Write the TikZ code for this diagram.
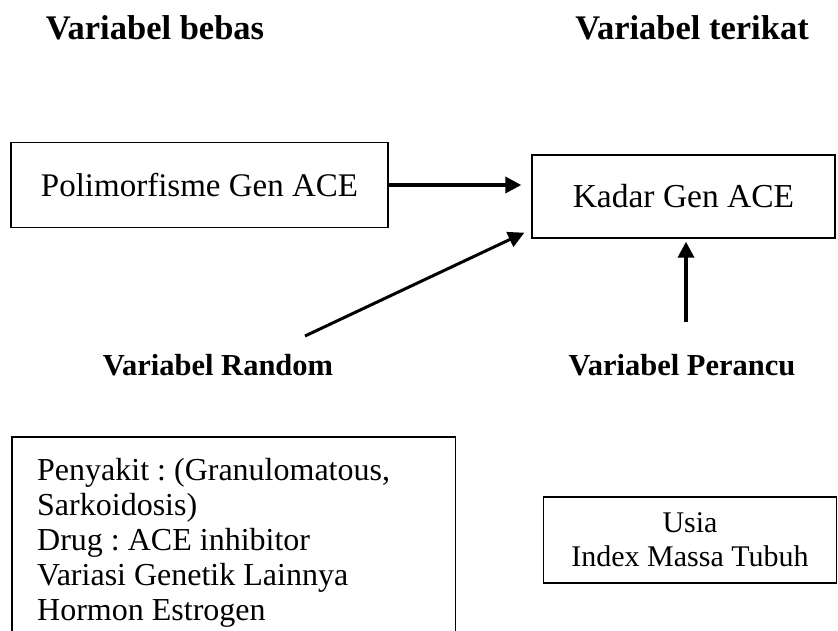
\documentclass[tikz,border=0pt]{standalone}
\usepackage{fontspec}
\setmainfont{Liberation Serif}
\usetikzlibrary{arrows.meta,positioning}
\frenchspacing
\tikzset{
    judul/.style={font=\fontsize{34.5}{38}\selectfont\bfseries},
    kotak/.style={draw, line width=1.4pt},
    panah/.style={line width=3.6pt, -{Triangle[length=16pt,width=16pt]}}
}
\begin{document}
\begin{tikzpicture}[x=1pt, y=-1pt]
    \clip (0,0) rectangle (838,630);
    \useasboundingbox (0,0) rectangle (838,630);
    % judul variabel
    \node[judul] (bebas)   at (155,28)  {Variabel bebas};
    \node[judul] (terikat) at (692,28)  {Variabel terikat};
    \node[judul, font=\fontsize{30.5}{36}\selectfont\bfseries] (random)  at (218,365) {Variabel Random};
    \node[judul, font=\fontsize{30.5}{36}\selectfont\bfseries] (perancu) at (682,365) {Variabel Perancu};
    % kotak
    \node[kotak, font=\fontsize{33}{36}\selectfont, minimum width=377pt, minimum height=85pt] (polimorf) at (199.5,185) {Polimorfisme Gen ACE};
    \node[kotak, font=\fontsize{33.5}{36}\selectfont, minimum width=303pt, minimum height=83pt] (kadar) at (683.5,196.5) {Kadar Gen ACE};
    \node[font=\fontsize{32}{35}\selectfont, anchor=north west, text width=393pt,
          inner xsep=25pt, inner ysep=21pt, align=flush left] (faktor) at (12,437)
          {Penyakit : (Granulomatous,\\Sarkoidosis)\\Drug : ACE inhibitor\\Variasi Genetik Lainnya\\Hormon Estrogen};
    \draw[kotak] (faktor.north west) rectangle ([yshift=-80pt]faktor.south east);
    \node[kotak, font=\fontsize{30}{34}\selectfont, minimum width=293pt, minimum height=86pt, align=center] (usia) at (690,540)
          {Usia\\Index Massa Tubuh};
    % panah
    \coordinate (ekorR) at (305,336);
    \coordinate (ekorP) at (686,322);
    \draw[panah] (polimorf.east) -- ([xshift=-10pt]kadar.west |- polimorf.east);
    \draw[panah, line width=3pt] (ekorR) -- ([xshift=-7pt,yshift=6pt]kadar.south west);
    \draw[panah] (ekorP) -- ([yshift=-3pt]ekorP |- kadar.south);
\end{tikzpicture}
\end{document}
